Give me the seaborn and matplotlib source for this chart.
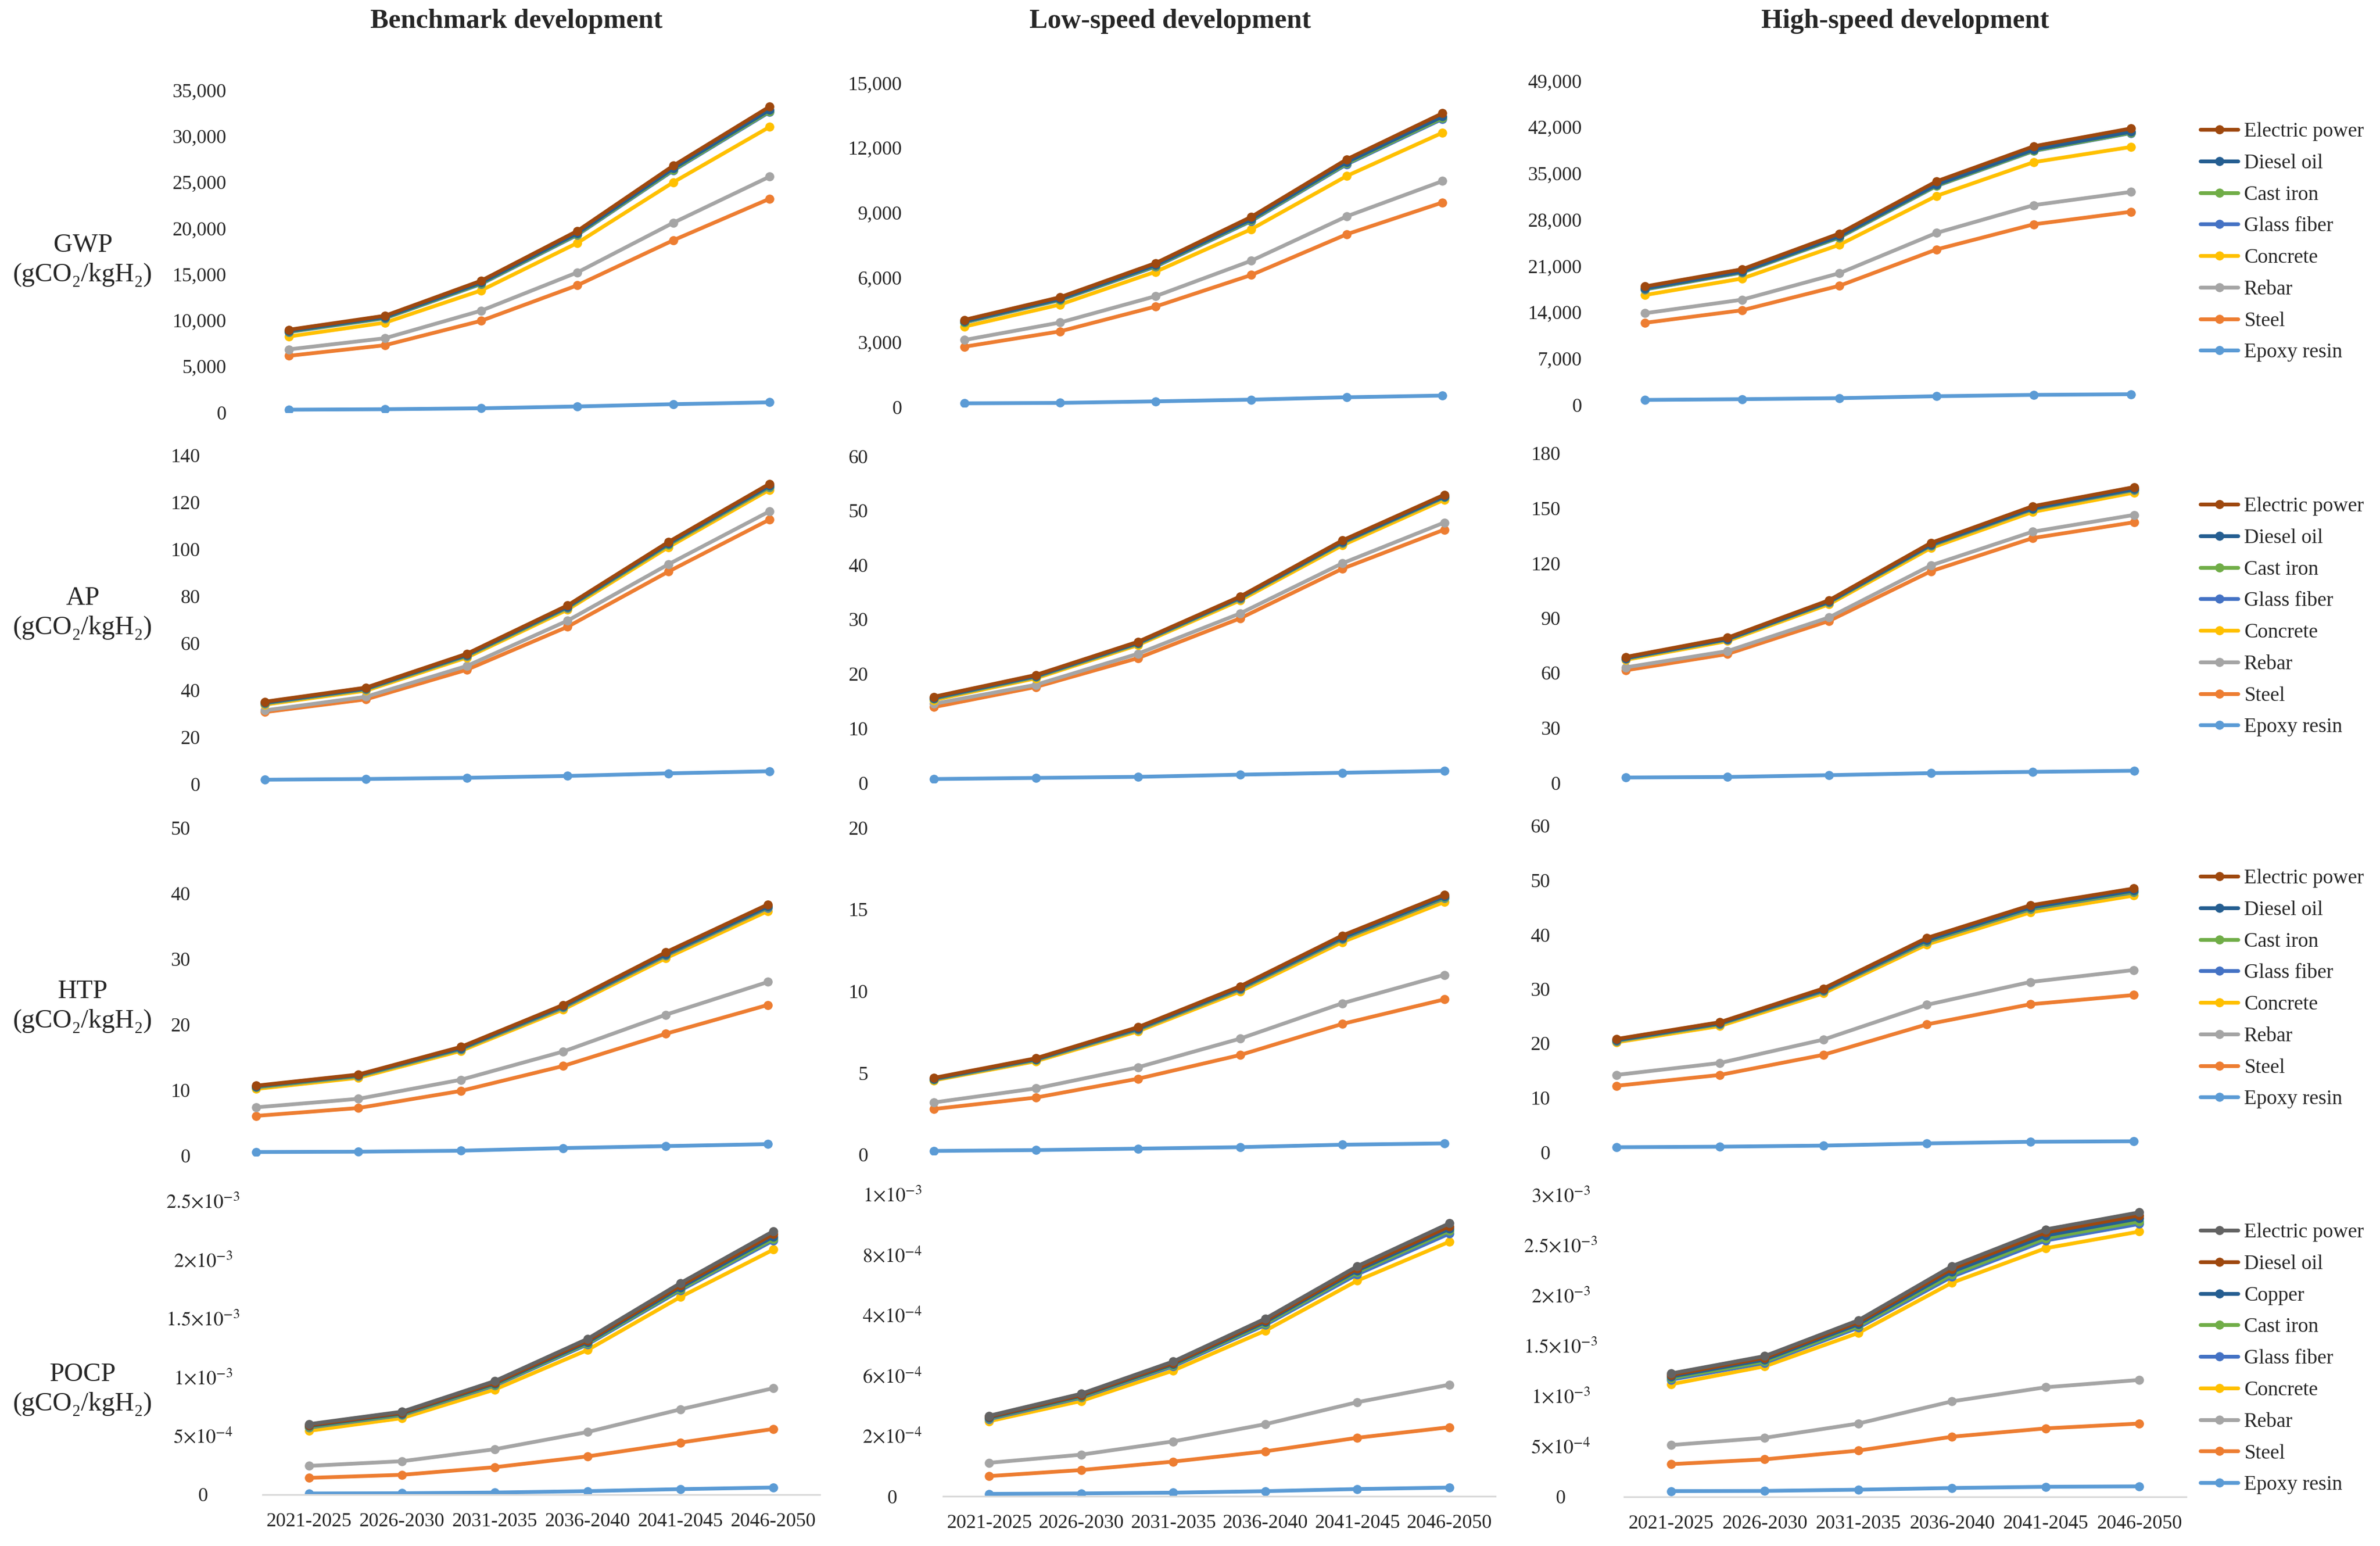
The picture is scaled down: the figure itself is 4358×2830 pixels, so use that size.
import numpy as np
import matplotlib.pyplot as plt
from matplotlib.lines import Line2D
import pandas as pd
import seaborn as sns

W, H, DPI = 4358, 2830, 100

periods = ["2021-2025", "2026-2030", "2031-2035", "2036-2040", "2041-2045", "2046-2050"]
scenarios = ["Benchmark development", "Low-speed development", "High-speed development"]
metrics = ["GWP", "AP", "HTP", "POCP"]
materials = ["Electric power", "Diesel oil", "Cast iron", "Glass fiber",
             "Concrete", "Rebar", "Steel", "Epoxy resin"]
pocp_materials = ["Electric power", "Diesel oil", "Copper", "Cast iron", "Glass fiber",
                  "Concrete", "Rebar", "Steel", "Epoxy resin"]

colors = {"Electric power": "#9E480E", "Diesel oil": "#255E91", "Cast iron": "#70AD47",
          "Glass fiber": "#4472C4", "Concrete": "#FFC000", "Rebar": "#A5A5A5",
          "Steel": "#ED7D31", "Epoxy resin": "#5B9BD5"}
pocp_colors = {"Electric power": "#636363", "Diesel oil": "#9E480E", "Copper": "#255E91",
               "Cast iron": "#70AD47", "Glass fiber": "#4472C4", "Concrete": "#FFC000",
               "Rebar": "#A5A5A5", "Steel": "#ED7D31", "Epoxy resin": "#5B9BD5"}

# ---- GWP (gCO2/kgH2) ----
gwp_benchmark = {
    "Electric power": [8980, 10500, 14300, 19700, 26800, 33200],
    "Diesel oil":     [8850, 10350, 14100, 19450, 26500, 32850],
    "Cast iron":      [8780, 10270, 14000, 19330, 26350, 32700],
    "Glass fiber":    [8740, 10230, 13950, 19270, 26280, 32620],
    "Concrete":       [8250, 9750, 13250, 18400, 25000, 31000],
    "Rebar":          [6850, 8060, 11050, 15200, 20600, 25600],
    "Steel":          [6150, 7300, 9950, 13800, 18700, 23200],
    "Epoxy resin":    [300, 350, 450, 650, 900, 1100],
}
gwp_low = {
    "Electric power": [4030, 5080, 6660, 8800, 11470, 13600],
    "Diesel oil":     [3960, 5000, 6570, 8690, 11340, 13450],
    "Cast iron":      [3930, 4970, 6530, 8640, 11280, 13380],
    "Glass fiber":    [3910, 4950, 6500, 8610, 11240, 13340],
    "Concrete":       [3720, 4740, 6260, 8230, 10700, 12700],
    "Rebar":          [3100, 3910, 5130, 6770, 8830, 10460],
    "Steel":          [2790, 3500, 4650, 6110, 8000, 9470],
    "Epoxy resin":    [170, 190, 260, 340, 450, 530],
}
gwp_high = {
    "Electric power": [17900, 20500, 25900, 33800, 39100, 41800],
    "Diesel oil":     [17600, 20150, 25500, 33300, 38600, 41300],
    "Cast iron":      [17500, 20050, 25350, 33150, 38450, 41150],
    "Glass fiber":    [17450, 20000, 25300, 33100, 38400, 41100],
    "Concrete":       [16600, 19100, 24200, 31600, 36700, 39000],
    "Rebar":          [13850, 15900, 19900, 26000, 30200, 32200],
    "Steel":          [12400, 14300, 18000, 23500, 27300, 29200],
    "Epoxy resin":    [740, 850, 1000, 1300, 1500, 1600],
}

# ---- AP ----
ap_benchmark = {
    "Electric power": [35.0, 41.0, 55.4, 76.0, 103.0, 127.7],
    "Diesel oil":     [34.6, 40.6, 54.9, 75.4, 102.3, 126.9],
    "Cast iron":      [34.4, 40.4, 54.6, 75.1, 101.9, 126.5],
    "Glass fiber":    [34.3, 40.3, 54.5, 75.0, 101.8, 126.3],
    "Concrete":       [33.8, 39.7, 53.8, 74.2, 100.8, 125.2],
    "Rebar":          [31.3, 37.1, 50.2, 69.5, 93.5, 116.0],
    "Steel":          [30.6, 36.0, 48.6, 66.9, 90.4, 112.5],
    "Epoxy resin":    [1.8, 2.1, 2.6, 3.4, 4.5, 5.4],
}
ap_low = {
    "Electric power": [15.8, 19.8, 25.9, 34.2, 44.5, 52.9],
    "Diesel oil":     [15.6, 19.6, 25.7, 34.0, 44.2, 52.6],
    "Cast iron":      [15.5, 19.5, 25.6, 33.9, 44.1, 52.5],
    "Glass fiber":    [15.45, 19.45, 25.55, 33.85, 44.05, 52.45],
    "Concrete":       [15.2, 19.2, 25.3, 33.5, 43.6, 52.0],
    "Rebar":          [14.5, 18.0, 23.7, 31.1, 40.3, 47.8],
    "Steel":          [13.9, 17.6, 22.9, 30.2, 39.3, 46.5],
    "Epoxy resin":    [0.7, 0.9, 1.1, 1.5, 1.85, 2.2],
}
ap_high = {
    "Electric power": [68.8, 79.3, 99.8, 131.1, 151.1, 161.6],
    "Diesel oil":     [68.2, 78.6, 99.0, 130.1, 150.0, 160.5],
    "Cast iron":      [68.0, 78.4, 98.7, 129.8, 149.7, 160.2],
    "Glass fiber":    [67.9, 78.3, 98.6, 129.6, 149.5, 160.0],
    "Concrete":       [67.2, 77.5, 97.6, 128.3, 148.0, 158.6],
    "Rebar":          [63.1, 72.0, 90.4, 118.8, 137.2, 146.4],
    "Steel":          [61.5, 70.4, 88.5, 115.6, 133.7, 142.4],
    "Epoxy resin":    [2.9, 3.2, 4.2, 5.3, 6.0, 6.6],
}

# ---- HTP ----
htp_benchmark = {
    "Electric power": [10.7, 12.4, 16.6, 23.0, 31.0, 38.3],
    "Diesel oil":     [10.6, 12.3, 16.4, 22.8, 30.7, 38.0],
    "Cast iron":      [10.5, 12.2, 16.3, 22.7, 30.6, 37.9],
    "Glass fiber":    [10.45, 12.15, 16.25, 22.6, 30.5, 37.8],
    "Concrete":       [10.2, 11.9, 16.0, 22.3, 30.1, 37.3],
    "Rebar":          [7.4, 8.7, 11.6, 15.9, 21.5, 26.5],
    "Steel":          [6.1, 7.3, 9.9, 13.7, 18.6, 23.0],
    "Epoxy resin":    [0.6, 0.65, 0.8, 1.2, 1.5, 1.8],
}
htp_low = {
    "Electric power": [4.7, 5.9, 7.8, 10.3, 13.4, 15.9],
    "Diesel oil":     [4.65, 5.85, 7.72, 10.2, 13.27, 15.78],
    "Cast iron":      [4.62, 5.82, 7.68, 10.15, 13.22, 15.72],
    "Glass fiber":    [4.6, 5.8, 7.65, 10.12, 13.18, 15.68],
    "Concrete":       [4.55, 5.72, 7.55, 9.98, 13.0, 15.45],
    "Rebar":          [3.2, 4.06, 5.35, 7.1, 9.26, 11.0],
    "Steel":          [2.8, 3.5, 4.65, 6.1, 8.0, 9.5],
    "Epoxy resin":    [0.24, 0.29, 0.38, 0.47, 0.62, 0.7],
}
htp_high = {
    "Electric power": [20.8, 23.9, 30.1, 39.4, 45.4, 48.5],
    "Diesel oil":     [20.6, 23.7, 29.8, 39.0, 45.0, 48.1],
    "Cast iron":      [20.5, 23.6, 29.7, 38.8, 44.8, 47.9],
    "Glass fiber":    [20.45, 23.55, 29.6, 38.7, 44.7, 47.8],
    "Concrete":       [20.2, 23.2, 29.2, 38.2, 44.1, 47.2],
    "Rebar":          [14.2, 16.4, 20.7, 27.1, 31.3, 33.5],
    "Steel":          [12.2, 14.2, 17.9, 23.5, 27.2, 28.9],
    "Epoxy resin":    [0.9, 1.0, 1.2, 1.6, 1.9, 2.0],
}

# ---- POCP, values in units of 1e-4 ----
pocp_unit = 1e-4
pocp_benchmark = {
    "Electric power": [6.01, 7.07, 9.68, 13.28, 18.03, 22.45],
    "Diesel oil":     [5.92, 6.98, 9.55, 13.12, 17.82, 22.20],
    "Copper":         [5.85, 6.91, 9.46, 13.00, 17.66, 21.99],
    "Cast iron":      [5.77, 6.83, 9.37, 12.90, 17.52, 21.80],
    "Glass fiber":    [5.72, 6.78, 9.30, 12.81, 17.41, 21.66],
    "Concrete":       [5.44, 6.52, 8.96, 12.33, 16.85, 20.88],
    "Rebar":          [2.45, 2.85, 3.87, 5.34, 7.27, 9.07],
    "Steel":          [1.43, 1.69, 2.34, 3.26, 4.44, 5.60],
    "Epoxy resin":    [0.10, 0.12, 0.18, 0.30, 0.47, 0.61],
}
pocp_low = {
    "Electric power": [2.67, 3.40, 4.47, 5.89, 7.63, 9.05],
    "Diesel oil":     [2.64, 3.36, 4.42, 5.83, 7.55, 8.95],
    "Copper":         [2.61, 3.33, 4.38, 5.78, 7.49, 8.87],
    "Cast iron":      [2.59, 3.30, 4.35, 5.73, 7.43, 8.80],
    "Glass fiber":    [2.56, 3.27, 4.31, 5.68, 7.36, 8.71],
    "Concrete":       [2.49, 3.16, 4.17, 5.49, 7.15, 8.44],
    "Rebar":          [1.11, 1.38, 1.82, 2.39, 3.12, 3.70],
    "Steel":          [0.67, 0.87, 1.15, 1.49, 1.94, 2.29],
    "Epoxy resin":    [0.08, 0.095, 0.12, 0.17, 0.24, 0.29],
}
pocp_high = {
    "Electric power": [12.27, 14.00, 17.56, 22.95, 26.60, 28.30],
    "Diesel oil":     [12.12, 13.83, 17.37, 22.68, 26.30, 28.00],
    "Copper":         [11.96, 13.65, 17.18, 22.40, 26.00, 27.70],
    "Cast iron":      [11.80, 13.47, 17.00, 22.12, 25.73, 27.39],
    "Glass fiber":    [11.65, 13.33, 16.83, 21.90, 25.50, 27.15],
    "Concrete":       [11.20, 12.98, 16.30, 21.30, 24.73, 26.39],
    "Rebar":          [5.15, 5.87, 7.29, 9.50, 10.90, 11.63],
    "Steel":          [3.25, 3.73, 4.60, 5.98, 6.81, 7.29],
    "Epoxy resin":    [0.57, 0.59, 0.71, 0.88, 1.00, 1.04],
}

# y-axis max and step per panel
gwp_axis = [(35000, 5000), (15000, 3000), (49000, 7000)]
ap_axis = [(140, 20), (60, 10), (180, 30)]
htp_axis = [(50, 10), (20, 5), (60, 10)]
pocp_axis = [(25, 5), (10, 2), (30, 5)]
# POCP tick labels as printed in the original (middle panel has 4 and 6 swapped)
pocp_labels = [
    ["0", r"$5{\times}10^{-4}$", r"$1{\times}10^{-3}$", r"$1.5{\times}10^{-3}$",
     r"$2{\times}10^{-3}$", r"$2.5{\times}10^{-3}$"],
    ["0", r"$2{\times}10^{-4}$", r"$6{\times}10^{-4}$", r"$4{\times}10^{-4}$",
     r"$8{\times}10^{-4}$", r"$1{\times}10^{-3}$"],
    ["0", r"$5{\times}10^{-4}$", r"$1{\times}10^{-3}$", r"$1.5{\times}10^{-3}$",
     r"$2{\times}10^{-3}$", r"$2.5{\times}10^{-3}$", r"$3{\times}10^{-3}$"],
]

# plot boxes in pixels: (left, right, top, bottom)
boxes = [
    [(441, 1497, 165, 755), (1678, 2729, 152, 745), (2923, 3991, 148, 741)],
    [(393, 1501, 833, 1435), (1616, 2738, 835, 1433), (2884, 4001, 830, 1433)],
    [(375, 1500, 1515, 2116), (1616, 2738, 1515, 2114), (2865, 4002, 1512, 2109)],
    [(481, 1501, 2199, 2736), (1727, 2738, 2187, 2739), (2974, 4003, 2188, 2740)],
]
pocp_label_x = [372, 1634, 2858]
row_label_y = [476, 1122, 1842, 2543]
legend_y = [443, 1129, 1810, 2487]
title_x = [946, 2143, 3489]

sns.set_theme(style="white")
plt.rcParams["font.family"] = ["Liberation Serif", "DejaVu Serif"]
plt.rcParams["mathtext.fontset"] = "stix"

fig = plt.figure(figsize=(W / DPI, H / DPI), dpi=DPI)
fig.patch.set_facecolor("white")

LW = 5
MS = 12
TICK_FS = 26


def draw_panel(ax, series, order, palette):
    rows = []
    for m in order[::-1]:
        for p, v in zip(periods, series[m]):
            rows.append((m, p, v))
    df = pd.DataFrame(rows, columns=["material", "period", "value"])
    sns.lineplot(data=df, x="period", y="value", hue="material", hue_order=order[::-1],
                 palette=palette, marker="o", markersize=MS, markeredgewidth=0,
                 linewidth=LW, legend=False, sort=False, errorbar=None, ax=ax)


all_data = [
    [gwp_benchmark, gwp_low, gwp_high],
    [ap_benchmark, ap_low, ap_high],
    [htp_benchmark, htp_low, htp_high],
    [pocp_benchmark, pocp_low, pocp_high],
]
all_axis = [gwp_axis, ap_axis, htp_axis, pocp_axis]

for r in range(4):
    for c in range(3):
        x0, x1, yt, yb = boxes[r][c]
        ax = fig.add_axes([x0 / W, 1 - yb / H, (x1 - x0) / W, (yb - yt) / H])
        ax.set_facecolor("none")
        ymax, step = all_axis[r][c]
        if r == 3:
            unit_series = {k: [v * pocp_unit for v in vals] for k, vals in all_data[r][c].items()}
            draw_panel(ax, unit_series, pocp_materials, pocp_colors)
            ticks = np.arange(0, ymax + step / 2, step) * pocp_unit
            ax.set_ylim(0, ymax * pocp_unit)
            ax.set_yticks(ticks)
            ax.set_yticklabels(pocp_labels[c])
            pad_px = x0 - pocp_label_x[c]
            ax.tick_params(axis="y", length=0, pad=pad_px * 72 / DPI, labelsize=TICK_FS)
            for lab in ax.get_yticklabels():
                lab.set_horizontalalignment("center")
            ax.tick_params(axis="x", length=0, pad=24, labelsize=TICK_FS)
            for sp in ["top", "right", "left"]:
                ax.spines[sp].set_visible(False)
            ax.spines["bottom"].set_color("#D9D9D9")
            ax.spines["bottom"].set_linewidth(2.2)
        else:
            draw_panel(ax, all_data[r][c], materials, colors)
            ticks = np.arange(0, ymax + step / 2, step)
            ax.set_ylim(0, ymax)
            ax.set_yticks(ticks)
            if r == 0:
                ax.set_yticklabels([f"{int(t):,}" for t in ticks])
            else:
                ax.set_yticklabels([f"{int(t)}" for t in ticks])
            ax.tick_params(axis="y", length=0, pad=19, labelsize=TICK_FS)
            ax.tick_params(axis="x", length=0, labelbottom=False)
            for sp in ax.spines.values():
                sp.set_visible(False)
        ax.set_xlim(-0.5, 5.5)
        ax.set_xlabel("")
        ax.set_ylabel("")
        ax.grid(False)

# column titles
for c in range(3):
    fig.text(title_x[c] / W, 1 - 39 / H, scenarios[c], ha="center", va="center",
             fontsize=36, fontweight="bold")

# row labels
for r in range(4):
    fig.text(152 / W, 1 - row_label_y[r] / H, f"{metrics[r]}\n(gCO₂/kgH₂)",
             ha="center", va="center", multialignment="center",
             fontsize=35, linespacing=1.3)

# legends
for r in range(4):
    order = pocp_materials if r == 3 else materials
    pal = pocp_colors if r == 3 else colors
    handles = [Line2D([0], [0], color=pal[m], lw=LW, marker="o", markersize=MS,
                      markeredgewidth=0) for m in order]
    fig.legend(handles, order, loc="center left",
               bbox_to_anchor=(4029 / W, 1 - legend_y[r] / H),
               frameon=False, fontsize=27, handlelength=1.84, handletextpad=0.3,
               labelspacing=0.62, borderpad=0, borderaxespad=0)

fig.savefig("out.png", dpi=DPI, facecolor="white")
